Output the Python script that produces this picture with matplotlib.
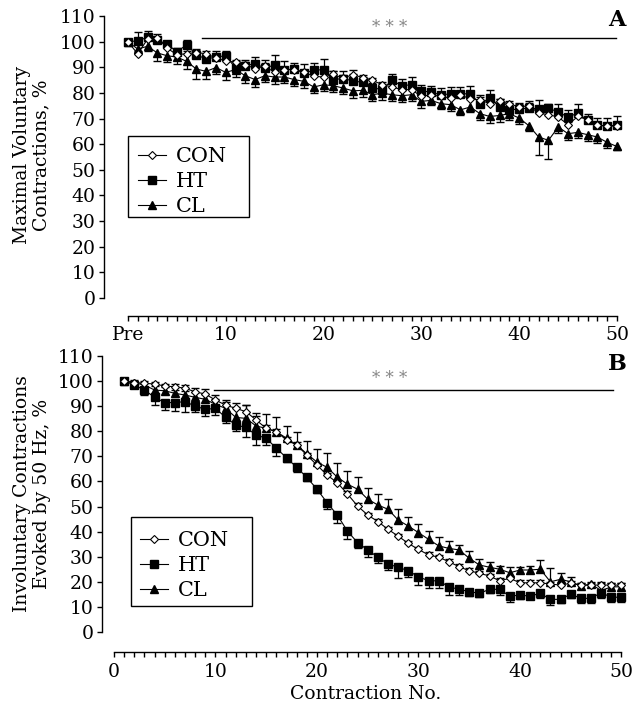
import numpy as np
import matplotlib
matplotlib.use("Agg")
import matplotlib.pyplot as plt
from matplotlib.lines import Line2D
from matplotlib.patches import Rectangle
from matplotlib.ticker import FixedLocator

plt.rcParams['font.family'] = ['DejaVu Serif']

# ---- Panel A: maximal voluntary contractions (Pre = 0, then 1..50) ----
x_top = np.arange(0, 51)
con_top = [100.0, 95.2, 101.0, 101.5, 97.5, 94.9, 95.3, 95.7, 95.3, 93.6,
           92.5, 92.0, 91.0, 89.5, 90.4, 88.0, 89.1, 89.1, 88.0, 86.5,
           86.2, 87.2, 85.8, 87.1, 86.0, 84.9, 83.2, 82.3, 81.3, 81.3,
           78.6, 79.3, 78.6, 78.0, 79.3, 77.6, 77.3, 75.8, 76.7, 75.8,
           74.5, 75.0, 72.1, 71.5, 70.6, 67.6, 70.8, 69.6, 67.6, 66.9, 67.2]
ht_top = [100.0, 100.3, 101.7, 100.5, 99.1, 96.0, 98.8, 94.9, 93.2, 94.0,
          94.5, 89.7, 90.6, 91.4, 89.7, 90.9, 88.8, 89.5, 87.8, 88.8,
          89.1, 85.2, 85.6, 84.7, 84.1, 82.0, 81.3, 84.9, 82.8, 83.2,
          80.9, 80.2, 79.3, 79.6, 79.6, 79.7, 75.8, 78.0, 74.5, 73.4,
          73.7, 74.1, 73.8, 74.1, 72.5, 70.6, 72.1, 69.3, 67.6, 66.9, 67.6]
cl_top = [100.0, 97.1, 98.2, 95.6, 94.5, 94.0, 92.3, 89.3, 88.4, 89.9,
          88.0, 89.1, 86.7, 85.2, 86.7, 86.2, 86.2, 85.2, 84.5, 82.3,
          83.2, 82.8, 81.9, 80.8, 81.0, 79.3, 79.9, 79.3, 78.9, 79.3,
          76.7, 77.1, 75.8, 75.4, 73.4, 74.5, 71.9, 70.8, 71.2, 71.9,
          70.2, 67.2, 62.8, 61.5, 66.7, 64.1, 64.6, 63.7, 62.8, 60.7, 59.1]
con_top_err = [0.0, 1.0, 1.0, 1.5, 1.2, 1.0, 1.0, 1.2, 1.0, 1.0,
               1.2, 1.0, 1.0, 1.0, 1.2, 1.0, 1.0, 1.0, 1.0, 1.0,
               1.0, 1.2, 1.0, 2.0, 1.0, 1.0, 1.0, 1.2, 1.0, 1.0,
               1.0, 1.0, 1.0, 1.0, 1.0, 1.0, 1.2, 1.0, 1.0, 1.0,
               1.0, 1.0, 1.0, 1.0, 1.2, 1.0, 1.0, 1.0, 1.0, 1.0, 1.0]
ht_top_err = [0.0, 3.3, 2.3, 1.0, 1.0, 1.5, 2.0, 2.3, 1.5, 2.5,
              2.0, 2.6, 2.3, 2.6, 3.3, 4.0, 3.5, 2.2, 3.3, 2.9,
              4.2, 3.3, 3.1, 2.7, 2.3, 2.0, 2.0, 2.6, 2.6, 3.0,
              2.3, 2.6, 2.6, 2.7, 2.7, 3.1, 3.5, 3.3, 3.1, 2.6,
              2.3, 2.6, 3.5, 1.7, 3.3, 2.9, 3.6, 2.6, 2.6, 3.3, 3.5]
cl_top_err = [0.0, 1.5, 2.0, 3.3, 2.6, 2.6, 3.0, 4.0, 3.0, 2.6,
              3.0, 3.0, 3.0, 3.0, 2.5, 2.8, 2.5, 2.5, 2.5, 2.5,
              2.5, 2.5, 2.5, 2.6, 2.5, 2.5, 2.5, 2.5, 2.5, 2.5,
              2.5, 2.0, 2.0, 2.5, 2.0, 2.0, 2.5, 2.5, 2.5, 2.5,
              2.5, 2.0, 7.0, 7.3, 2.5, 2.5, 2.0, 2.5, 2.5, 2.0, 1.5]

# ---- Panel B: involuntary contractions evoked by 50 Hz (1..50) ----
x_bot = np.arange(1, 51)
con_bot = [100.0, 99.4, 99.1, 98.8, 98.0, 97.7, 97.1, 95.7, 94.8, 92.4,
           90.4, 89.1, 87.8, 84.5, 81.1, 79.8, 76.5, 74.5, 70.5, 66.5,
           62.5, 59.5, 55.0, 50.2, 46.6, 44.0, 40.9, 38.2, 35.3, 32.9,
           30.7, 29.8, 28.0, 26.0, 24.4, 23.4, 22.3, 20.4, 21.4, 19.6,
           19.6, 19.6, 19.1, 18.7, 19.4, 18.7, 18.7, 18.7, 18.7, 18.7]
ht_bot = [100.0, 98.4, 96.4, 93.5, 91.4, 91.4, 91.8, 90.0, 88.7, 89.1,
          85.5, 82.5, 81.5, 78.5, 77.2, 73.2, 69.4, 65.6, 61.6, 56.9,
          51.5, 46.6, 40.2, 35.6, 32.7, 29.8, 27.1, 25.8, 24.4, 22.0,
          20.4, 20.4, 18.0, 17.0, 16.1, 15.4, 17.0, 17.0, 14.3, 14.7,
          14.3, 15.4, 13.0, 13.0, 15.1, 13.4, 13.4, 15.7, 13.8, 13.9]
cl_bot = [100.0, 99.3, 98.4, 96.4, 96.1, 95.1, 94.4, 93.5, 92.7, 90.7,
          89.1, 85.5, 85.1, 82.1, 81.1, 79.8, 77.2, 74.5, 71.0, 67.7,
          65.6, 61.7, 58.9, 56.9, 52.9, 50.6, 48.9, 44.6, 42.2, 39.6,
          36.9, 34.3, 33.3, 32.7, 29.4, 26.7, 25.8, 25.0, 23.6, 24.7,
          24.7, 25.0, 20.0, 21.0, 20.0, 18.3, 19.1, 16.5, 18.0, 18.0]
con_bot_err = [0.0, 0.8, 0.8, 1.0, 1.0, 1.0, 1.2, 1.5, 2.0, 2.0,
               2.0, 2.0, 2.7, 1.5, 1.2, 1.0, 1.0, 1.0, 1.0, 1.0,
               1.0, 1.0, 1.0, 1.0, 1.0, 1.0, 1.0, 1.0, 1.0, 1.0,
               1.0, 1.0, 1.0, 1.0, 1.0, 1.0, 1.0, 1.0, 1.0, 1.0,
               1.0, 1.0, 1.0, 1.0, 1.0, 1.0, 1.0, 1.0, 1.0, 1.0]
ht_bot_err = [0.0, 1.0, 2.0, 3.0, 2.9, 3.2, 4.0, 2.3, 2.7, 2.7,
              2.1, 2.3, 3.7, 4.0, 2.7, 3.0, 1.7, 1.7, 1.5, 1.5,
              2.3, 3.0, 3.0, 2.3, 2.7, 2.4, 2.4, 4.4, 2.4, 3.3,
              2.7, 3.0, 3.3, 2.3, 1.7, 1.3, 1.3, 2.3, 2.3, 1.7,
              1.3, 2.0, 2.3, 1.6, 1.7, 2.0, 2.0, 2.3, 1.7, 2.0]
cl_bot_err = [0.0, 0.8, 1.0, 1.5, 1.5, 1.5, 1.8, 2.0, 2.0, 2.0,
              2.7, 4.2, 5.3, 5.3, 5.6, 6.0, 4.9, 5.3, 5.0, 5.3,
              5.6, 5.7, 5.3, 5.0, 4.4, 4.4, 4.0, 4.6, 3.7, 3.5,
              3.5, 3.7, 3.0, 2.0, 3.0, 2.3, 1.9, 1.3, 2.1, 1.3,
              1.6, 3.7, 5.3, 2.4, 2.0, 1.3, 1.0, 3.3, 1.6, 1.6]

top_ticks = [0, 10, 20, 30, 40, 50]
top_ticklabels = ['Pre', '10', '20', '30', '40', '50']
bot_ticks = [0, 10, 20, 30, 40, 50]
minor_ticks = list(range(0, 51))
y_ticks = list(range(0, 111, 10))

W, H = 632, 711


def one_sided_err(ax, x, y, err, direction):
    # vertical bar from the point to the tip, with a cap only at the tip
    x = np.asarray(x); y = np.asarray(y); err = np.asarray(err)
    tip = y + direction * err
    m = err > 0
    ax.vlines(x[m], y[m], tip[m], color='black', lw=0.9, zorder=2)
    ax.plot(x[m], tip[m], ls='none', marker='_', ms=6, mew=1.0,
            color='black', zorder=2)


def draw_panel(ax, x, con, ht, cl, con_err, ht_err, cl_err, ht_dir, cl_dir):
    one_sided_err(ax, x, con, con_err, 1)
    one_sided_err(ax, x, ht, ht_err, ht_dir)
    one_sided_err(ax, x, cl, cl_err, cl_dir)
    ax.plot(x, con, color='black', lw=0.8, marker='D', ms=4.2, mfc='white',
            mec='black', mew=0.8, zorder=4)
    ax.plot(x, ht, color='black', lw=0.8, marker='s', ms=5.2, mfc='black',
            mec='black', zorder=3)
    ax.plot(x, cl, color='black', lw=0.8, marker='^', ms=6, mfc='black',
            mec='black', zorder=3)


def style_axes(ax, offset):
    for s in ['top', 'right']:
        ax.spines[s].set_visible(False)
    ax.spines['bottom'].set_position(('outward', offset))
    for s in ['bottom', 'left']:
        ax.spines[s].set_linewidth(1.0)
        ax.spines[s].set_color('black')
    ax.spines['bottom'].set_bounds(0, 50)
    ax.spines['left'].set_bounds(0, 110)
    ax.set_ylim(0, 110)
    ax.set_yticks(y_ticks)
    ax.xaxis.set_minor_locator(FixedLocator(minor_ticks))
    ax.tick_params(which='both', direction='out', length=3.5, width=1.0,
                   color='black', labelsize=13.5, pad=2.5)
    ax.tick_params(axis='x', which='both', pad=4)


def add_legend(ax, box, anchor):
    # box: (left, top, right, bottom) in pixels from the top-left corner
    l, t, r, b = box
    fig.patches.append(Rectangle((l / W, 1 - b / H), (r - l) / W, (b - t) / H,
                                 transform=fig.transFigure, fill=False,
                                 edgecolor='black', lw=1.0, zorder=5))
    handles = [
        Line2D([], [], color='black', lw=0.8, marker='D', ms=4.2,
               mfc='white', mec='black', mew=0.8),
        Line2D([], [], color='black', lw=0.8, marker='s', ms=5.2, mfc='black'),
        Line2D([], [], color='black', lw=0.8, marker='^', ms=6, mfc='black'),
    ]
    ax.legend(handles, ['CON', 'HT', 'CL'], loc='upper left',
              bbox_to_anchor=(anchor[0] / W, 1 - anchor[1] / H),
              bbox_transform=fig.transFigure, borderaxespad=0, borderpad=0,
              fontsize=15, frameon=False, handlelength=1.35,
              handletextpad=0.45, labelspacing=0.3)


fig = plt.figure(figsize=(W / 100, H / 100), dpi=100)

# Panel A
ax1 = fig.add_axes([104 / W, 413 / H, 522.7 / W, 282 / H])
ax1.set_xlim(-2.45, 51.0)
draw_panel(ax1, x_top, con_top, ht_top, cl_top,
           con_top_err, ht_top_err, cl_top_err, 1, -1)
style_axes(ax1, 13)
ax1.set_xticks(top_ticks)
ax1.set_xticklabels(top_ticklabels)
ax1.plot([7.6, 49.9], [101.3, 101.3], color='black', lw=1.0)
ax1.text(26.8, 105.6, '* * *', ha='center', va='center', fontsize=12,
         color='#888888')
ax1.text(50.0, 108.6, 'A', ha='center', va='center', fontsize=16,
         fontweight='bold', clip_on=False)
add_legend(ax1, (128, 136, 249, 217), (138, 147))

# Panel B
ax2 = fig.add_axes([102 / W, 79 / H, 527.6 / W, 276.1 / H])
ax2.set_xlim(-1.18, 50.8)
draw_panel(ax2, x_bot, con_bot, ht_bot, cl_bot,
           con_bot_err, ht_bot_err, cl_bot_err, -1, 1)
style_axes(ax2, 14.5)
ax2.set_xticks(bot_ticks)
ax2.plot([9.9, 49.2], [96.4, 96.4], color='black', lw=1.0)
ax2.text(27.2, 101.0, '* * *', ha='center', va='center', fontsize=12,
         color='#888888')
ax2.text(49.6, 106.8, 'B', ha='center', va='center', fontsize=16,
         fontweight='bold', clip_on=False)
add_legend(ax2, (131, 517, 252, 606), (140, 531))
ax2.set_xlabel('Contraction No.', fontsize=13.5, labelpad=3)

fig.text(32 / W, 1 - 155 / H, 'Maximal Voluntary\nContractions, %',
         rotation=90, ha='center', va='center', fontsize=13.5,
         linespacing=1.1, multialignment='center')
fig.text(32 / W, 1 - 494 / H, 'Involuntary Contractions\nEvoked by 50 Hz, %',
         rotation=90, ha='center', va='center', fontsize=13.5,
         linespacing=1.1, multialignment='center')

fig.savefig('out.png', dpi=100)
